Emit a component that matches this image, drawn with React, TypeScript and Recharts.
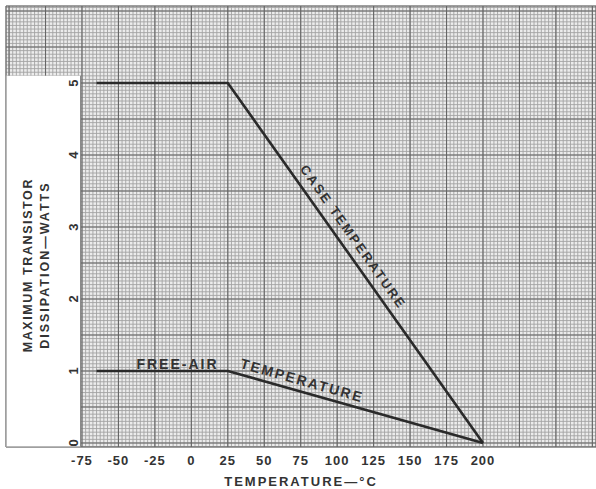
import {
  ComposedChart,
  Line,
  XAxis,
  YAxis,
  CartesianGrid,
  ReferenceArea,
  ReferenceDot,
  ReferenceLine,
} from "recharts";

// curves (temperature in degC, dissipation in watts)
const caseTemp = [-65, 25, 200];
const caseWatts = [5, 5, 0];
const freeAirTemp = [-65, 25, 200];
const freeAirWatts = [1, 1, 0];

const tempTicks = [-75, -50, -25, 0, 25, 50, 75, 100, 125, 150, 175, 200];
const wattTicks = [0, 1, 2, 3, 4, 5];

// the graph paper runs past the plotted range on every side
const X_DOMAIN: [number, number] = [-127.1, 277.5];
const Y_DOMAIN: [number, number] = [-0.056, 6.07];

const steps = (from: number, to: number, step: number) => {
  const out: number[] = [];
  const n = Math.round((to - from) / step);
  for (let i = 0; i <= n; i++) out.push(+(from + i * step).toFixed(4));
  return out;
};

const minorX = steps(-125, 275, 2.5);
const majorX = steps(-125, 275, 25);
const minorY = steps(-0.05, 6.05, 0.05);
const majorY = steps(0, 6, 0.5);

const caseData = caseTemp.map((t, i) => ({ t, w: caseWatts[i] }));
const freeAirData = freeAirTemp.map((t, i) => ({ t, w: freeAirWatts[i] }));

const INK = "#2a2a2a";
const TEXT = "#333";
const FONT = "'Liberation Sans', Arial, sans-serif";

type RotProps = {
  viewBox?: { x: number; y: number; width: number; height: number };
  text: string;
  rot: number;
  size?: number;
  spacing?: number;
};

// note: "angle" is a Label prop and gets overwritten, so the turn is "rot"
const RotText = ({ viewBox, text, rot, size = 13, spacing = 2 }: RotProps) => {
  if (!viewBox) return null;
  const cx = viewBox.x + viewBox.width / 2;
  const cy = viewBox.y + viewBox.height / 2;
  return (
    <text
      x={cx}
      y={cy}
      transform={`rotate(${rot} ${cx} ${cy})`}
      textAnchor="middle"
      dominantBaseline="central"
      fontFamily={FONT}
      fontWeight="bold"
      fontSize={size}
      letterSpacing={spacing}
      fill={TEXT}
    >
      {text}
    </text>
  );
};

const dotProps = {
  xAxisId: "main",
  yAxisId: "main",
  r: 0,
  fill: "none",
  stroke: "none",
};

export default function App() {
  return (
    <div style={{ position: "absolute", left: 0, top: 0, background: "#fff" }}>
      <ComposedChart width={596} height={489} margin={{ top: 6, right: 0, left: 6, bottom: 0 }}>
        <XAxis xAxisId="minor" dataKey="t" type="number" domain={X_DOMAIN} ticks={minorX} interval={0} hide allowDataOverflow />
        <XAxis xAxisId="major" dataKey="t" type="number" domain={X_DOMAIN} ticks={majorX} interval={0} hide allowDataOverflow />
        <XAxis
          xAxisId="main"
          dataKey="t"
          type="number"
          domain={X_DOMAIN}
          ticks={tempTicks}
          interval={0}
          allowDataOverflow
          height={42}
          axisLine={false}
          tickLine={false}
          tickSize={6}
          tickMargin={3}
          tick={{ fontSize: 13, fill: TEXT, fontFamily: FONT, letterSpacing: 1, fontWeight: "bold" }}
          label={{
            value: "TEMPERATURE—°C",
            position: "insideBottom",
            offset: 3,
            fontSize: 13,
            fill: TEXT,
            fontFamily: FONT,
            fontWeight: "bold",
            letterSpacing: 2,
          }}
        />
        <YAxis yAxisId="minor" type="number" domain={Y_DOMAIN} ticks={minorY} interval={0} hide allowDataOverflow />
        <YAxis yAxisId="major" type="number" domain={Y_DOMAIN} ticks={majorY} interval={0} hide allowDataOverflow />
        <YAxis yAxisId="main" type="number" domain={Y_DOMAIN} ticks={wattTicks} interval={0} hide allowDataOverflow />

        <CartesianGrid xAxisId="minor" yAxisId="minor" stroke="#a3a3a3" strokeWidth={0.9} fill="#ececec" />
        <CartesianGrid xAxisId="major" yAxisId="major" stroke="#666" strokeWidth={1.1} />

        {/* white label panel on the left, below the top strip of paper */}
        <ReferenceArea
          xAxisId="main"
          yAxisId="main"
          x1={X_DOMAIN[0]}
          x2={-76}
          y1={Y_DOMAIN[0]}
          y2={5.1}
          fill="#fff"
          fillOpacity={1}
          stroke="none"
          ifOverflow="visible"
        />
        <ReferenceLine
          xAxisId="main"
          yAxisId="main"
          segment={[{ x: X_DOMAIN[0], y: Y_DOMAIN[0] }, { x: X_DOMAIN[0], y: 5.1 }]}
          stroke="#a0a0a0"
          strokeWidth={1.5}
          ifOverflow="visible"
        />
        <ReferenceLine
          xAxisId="main"
          yAxisId="main"
          segment={[{ x: X_DOMAIN[0], y: Y_DOMAIN[0] }, { x: -76, y: Y_DOMAIN[0] }]}
          stroke="#a0a0a0"
          strokeWidth={1.5}
          ifOverflow="visible"
        />
        <ReferenceLine
          xAxisId="main"
          yAxisId="main"
          segment={[{ x: -76, y: Y_DOMAIN[0] }, { x: -76, y: 5.1 }]}
          stroke="#8a8a8a"
          strokeWidth={1}
          ifOverflow="visible"
        />

        <Line
          xAxisId="main"
          yAxisId="main"
          data={caseData}
          dataKey="w"
          type="linear"
          stroke={INK}
          strokeWidth={2.6}
          strokeLinejoin="round"
          dot={false}
          activeDot={false}
          isAnimationActive={false}
        />
        <Line
          xAxisId="main"
          yAxisId="main"
          data={freeAirData}
          dataKey="w"
          type="linear"
          stroke={INK}
          strokeWidth={2.6}
          strokeLinejoin="round"
          dot={false}
          activeDot={false}
          isAnimationActive={false}
        />

        {/* y tick labels, turned like the axis title */}
        {wattTicks.map((v) => (
          <ReferenceDot key={v} {...dotProps} x={-81} y={v} label={<RotText text={String(v)} rot={-90} size={13} spacing={0} />} />
        ))}

        {/* y axis title, two lines */}
        <ReferenceDot {...dotProps} x={-112} y={2.47} label={<RotText text="MAXIMUM  TRANSISTOR" rot={-90} size={12.5} spacing={1.6} />} />
        <ReferenceDot {...dotProps} x={-100.4} y={2.47} label={<RotText text="DISSIPATION—WATTS" rot={-90} size={12.5} spacing={2} />} />

        {/* curve captions */}
        <ReferenceDot {...dotProps} x={111} y={2.86} label={<RotText text="CASE TEMPERATURE" rot={54.7} size={13} spacing={2.2} />} />
        <ReferenceDot {...dotProps} x={-9.5} y={1.1} label={<RotText text="FREE-AIR" rot={0} size={14} spacing={2} />} />
        <ReferenceDot {...dotProps} x={76} y={0.87} label={<RotText text="TEMPERATURE" rot={15.8} size={14} spacing={2} />} />
      </ComposedChart>
    </div>
  );
}
